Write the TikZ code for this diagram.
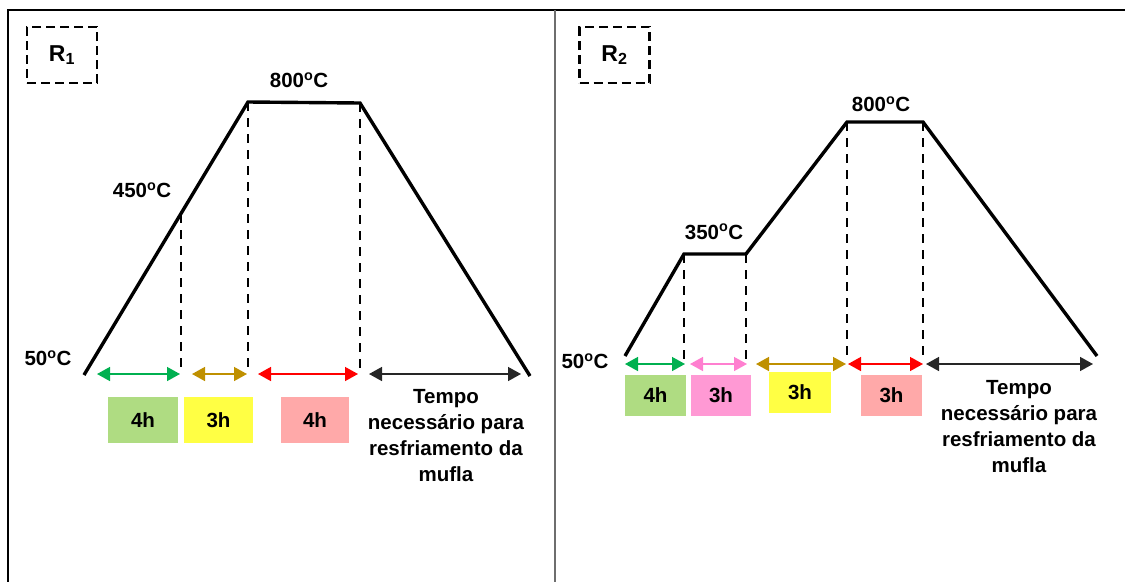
\documentclass[tikz,border=0pt]{standalone}
\usepackage{fontspec}
\setmainfont{Liberation Sans}
\usetikzlibrary{arrows.meta}

\definecolor{arrgreen}{HTML}{00B050}
\definecolor{arrgold}{HTML}{BF9000}
\definecolor{arrred}{HTML}{FF0000}
\definecolor{arrpink}{HTML}{FF7FD0}
\definecolor{boxgreen}{HTML}{AFDC82}
\definecolor{boxyellow}{HTML}{FFFF44}
\definecolor{boxsalmon}{HTML}{FFA9A9}
\definecolor{boxpink}{HTML}{FF99D4}
\definecolor{divider}{HTML}{6E6E6E}

\newcommand{\dg}{\textsuperscript{o}C}

\tikzset{
  txt/.style={font=\fontsize{20.5}{26}\selectfont\bfseries, inner sep=0pt},
  profile/.style={line width=3.4pt, line join=miter},
  guide/.style={line width=2.8pt, dash pattern=on 9pt off 7pt},
  span/.style={line width=1.5pt, {Triangle[length=13pt,width=14pt]}-{Triangle[length=13pt,width=14pt]}},
  tag/.style={font=\fontsize{23}{26}\selectfont\bfseries, inner sep=0pt, minimum height=56pt, minimum width=70pt, draw, line width=2.2pt, dash pattern=on 9pt off 5pt},
  hbox/.style={txt, minimum width=#1, inner sep=0pt},
  note/.style={txt, align=center}
}

\begin{document}
\begin{tikzpicture}[x=1pt, y=-1pt]
\useasboundingbox (0,0) rectangle (1125,582);

% frame and panel divider
\draw[line width=2.5pt] (1125,10) -- (8,10) -- (8,582);
\draw[divider, line width=1.2pt] (555,10) -- (555,582);

% ---------------- panel R1 ----------------
\node[tag] (r1) at (62,55) {R\textsubscript{1}};

\coordinate (a0) at (84,375);
\coordinate (a1) at (248,102);
\coordinate (a2) at (360,103);
\coordinate (a3) at (530,376);
\coordinate (am) at (181,214);
\draw[profile] (a0) -- (a1) -- (a2) -- (a3);

\coordinate (ga) at (181,374);
\coordinate (gb) at (248,374);
\coordinate (gc) at (360,374);
\draw[guide] (am) -- (ga);
\draw[guide] (a1) -- (gb);
\draw[guide] (a2) -- (gc);

\node[txt] (t50a) at (48,358) {50\dg};
\node[txt] (t450) at (142,190) {450\dg};
\node[txt] (t800a) at (299,80) {800\dg};

\coordinate (s1a) at (97,374);  \coordinate (s1b) at (180,374);
\coordinate (s2a) at (192,374); \coordinate (s2b) at (247,374);
\coordinate (s3a) at (258,374); \coordinate (s3b) at (358,374);
\coordinate (s4a) at (369,374); \coordinate (s4b) at (521,374);
\draw[span, arrgreen] (s1a) -- (s1b);
\draw[span, arrgold] (s2a) -- (s2b);
\draw[span, arrred] (s3a) -- (s3b);
\draw[span, black!85] (s4a) -- (s4b);

\node[hbox=70pt, fill=boxgreen, minimum height=46pt] (b1) at (143,420) {4h};
\node[hbox=69pt, fill=boxyellow, minimum height=46pt] (b2) at (218.5,420) {3h};
\node[hbox=68pt, fill=boxsalmon, minimum height=46pt] (b3) at (315,420) {4h};

\node[note] (n1) at (446,436) {Tempo\\necessário para\\resfriamento da\\mufla};

% ---------------- panel R2 ----------------
\node[tag] (r2) at (614.5,55) {R\textsubscript{2}};

\coordinate (c0) at (625,356);
\coordinate (c1) at (684,254);
\coordinate (c2) at (746,254);
\coordinate (c3) at (847,122);
\coordinate (c4) at (923,122);
\coordinate (c5) at (1097,356);
\draw[profile] (c0) -- (c1) -- (c2) -- (c3) -- (c4) -- (c5);

\coordinate (ha) at (684,360);
\coordinate (hb) at (746,360);
\coordinate (hc) at (847,360);
\coordinate (hd) at (923,360);
\draw[guide] (c1) -- (ha);
\draw[guide] (c2) -- (hb);
\draw[guide] (c3) -- (hc);
\draw[guide] (c4) -- (hd);

\node[txt] (t50b) at (585,361) {50\dg};
\node[txt] (t350) at (714,232) {350\dg};
\node[txt] (t800b) at (881,104) {800\dg};

\coordinate (u1a) at (625,364); \coordinate (u1b) at (685,364);
\coordinate (u2a) at (690,364); \coordinate (u2b) at (747,364);
\coordinate (u3a) at (756,364); \coordinate (u3b) at (846,364);
\coordinate (u4a) at (848,364); \coordinate (u4b) at (923,364);
\coordinate (u5a) at (926,364); \coordinate (u5b) at (1093,364);
\draw[span, arrgreen] (u1a) -- (u1b);
\draw[span, arrpink] (u2a) -- (u2b);
\draw[span, arrgold] (u3a) -- (u3b);
\draw[span, arrred] (u4a) -- (u4b);
\draw[span, black!85] (u5a) -- (u5b);

\node[hbox=61pt, fill=boxgreen, minimum height=41pt] (d1) at (655.5,395.5) {4h};
\node[hbox=60pt, fill=boxpink, minimum height=41pt] (d2) at (721,395.5) {3h};
\node[hbox=62pt, fill=boxyellow, minimum height=41pt] (d3) at (800,392) {3h};
\node[hbox=61pt, fill=boxsalmon, minimum height=41pt] (d4) at (891.5,395.5) {3h};

\node[note] (n2) at (1019,427) {Tempo\\necessário para\\resfriamento da\\mufla};
\end{tikzpicture}
\end{document}
